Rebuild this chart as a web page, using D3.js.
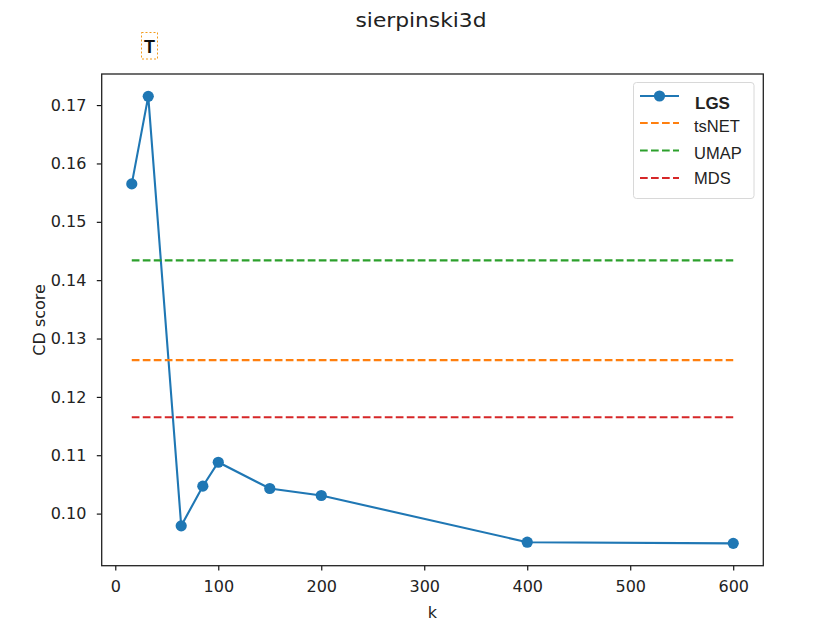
<!DOCTYPE html>
<html>
<head>
<meta charset="utf-8">
<script src="https://cdn.jsdelivr.net/npm/d3@7/dist/d3.min.js"></script>
<style>
html,body{margin:0;padding:0;background:#fff;}
svg{display:block;}
</style>
</head>
<body>
<svg id="chart" width="830" height="630"></svg>
<script>
const title = "sierpinski3d";
const kValues = [16, 32, 64, 85, 100, 150, 200, 400, 600];
const lgsScores = [0.1565, 0.1715, 0.0979, 0.1047, 0.1088, 0.1043, 0.1031, 0.0951, 0.0949];
const baselineNames = ["tsNET", "UMAP", "MDS"];
const baselineScores = [0.1263, 0.1434, 0.1165];
const baselineColors = ["#ff7f0e", "#2ca02c", "#d62728"];
const xTicks = [0, 100, 200, 300, 400, 500, 600];
const yTicks = [0.10, 0.11, 0.12, 0.13, 0.14, 0.15, 0.16, 0.17];

const svg = d3.select("#chart");
const L = 101.7, R = 763.3, T = 74, B = 565.7;
const font = "'DejaVu Sans', sans-serif";
const legendFont = "'Liberation Sans', Arial, sans-serif";

const xMin = d3.min(kValues), xMax = d3.max(kValues);
const xPad = (xMax - xMin) * 0.05;
const x = d3.scaleLinear().domain([xMin - xPad, xMax + xPad]).range([L, R]);
const allY = lgsScores.concat(baselineScores);
const yMin = d3.min(allY), yMax = d3.max(allY);
const yPad = (yMax - yMin) * 0.05;
const y = d3.scaleLinear().domain([yMin - yPad, yMax + yPad]).range([B, T]);

const lineGen = d3.line().x((d, i) => x(kValues[i])).y(d => y(d));
svg.append("path").datum(lgsScores)
  .attr("d", lineGen).attr("fill", "none")
  .attr("stroke", "#1f77b4").attr("stroke-width", 2.1);
svg.selectAll("circle.pt").data(lgsScores).enter().append("circle")
  .attr("class", "pt")
  .attr("cx", (d, i) => x(kValues[i])).attr("cy", d => y(d))
  .attr("r", 5.6).attr("fill", "#1f77b4");

baselineScores.forEach((v, i) => {
  svg.append("line")
    .attr("x1", x(xMin)).attr("x2", x(xMax))
    .attr("y1", y(v)).attr("y2", y(v))
    .attr("stroke", baselineColors[i]).attr("stroke-width", 2.1)
    .attr("stroke-dasharray", "7.7,3.3");
});

// axes
const xAxis = d3.axisBottom(x).tickValues(xTicks).tickSize(4.9).tickPadding(10).tickFormat(d3.format("d"));
const yAxis = d3.axisLeft(y).tickValues(yTicks).tickSize(4.9).tickPadding(10.5).tickFormat(d3.format(".2f"));
const gx = svg.append("g").attr("transform", `translate(0,${B})`).call(xAxis);
const gy = svg.append("g").attr("transform", `translate(${L},0)`).call(yAxis);
[gx, gy].forEach(g => {
  g.select(".domain").remove();
  g.selectAll(".tick line").attr("stroke", "#000").attr("stroke-width", 1.1);
  g.selectAll(".tick text").attr("font-family", font).attr("font-size", 16).attr("fill", "#222");
});

// frame
svg.append("rect").attr("x", L).attr("y", T).attr("width", R - L).attr("height", B - T)
  .attr("fill", "none").attr("stroke", "#222").attr("stroke-width", 1.3);

// title & labels
svg.append("text").attr("x", 421).attr("y", 27.3).attr("text-anchor", "middle")
  .attr("font-family", font).attr("font-size", 19.5).attr("fill", "#222")
  .attr("textLength", 131).attr("lengthAdjust", "spacingAndGlyphs").text(title);
svg.append("text").attr("x", (L + R) / 2).attr("y", 618).attr("text-anchor", "middle")
  .attr("font-family", font).attr("font-size", 16).attr("fill", "#222").text("k");
svg.append("text").attr("transform", `translate(45,${(T + B) / 2}) rotate(-90)`)
  .attr("text-anchor", "middle")
  .attr("font-family", font).attr("font-size", 16).attr("fill", "#222").text("CD score");

// "T" marker box
svg.append("rect").attr("x", 141.5).attr("y", 32.5).attr("width", 16).attr("height", 26.5)
  .attr("fill", "none").attr("stroke", "#f39c1c").attr("stroke-width", 1)
  .attr("stroke-dasharray", "2,2");
svg.append("text").attr("x", 149.5).attr("y", 52.5).attr("text-anchor", "middle")
  .attr("font-family", legendFont).attr("font-size", 18)
  .attr("font-weight", "bold").attr("fill", "#111").text("T");

// legend
const lg = svg.append("g");
lg.append("rect").attr("x", 633.5).attr("y", 82.5).attr("width", 120.5).attr("height", 116)
  .attr("rx", 3).attr("fill", "#fff").attr("fill-opacity", 0.8)
  .attr("stroke", "#d8d8d8").attr("stroke-width", 1);
const legendNames = ["LGS"].concat(baselineNames);
const legendColors = ["#1f77b4"].concat(baselineColors);
const legendYs = [96, 123, 150.5, 178];
const legendTextYs = [108.8, 131.6, 159.2, 184.2];
legendNames.forEach((name, i) => {
  const ly = legendYs[i];
  const ln = lg.append("line").attr("x1", 640).attr("x2", 679).attr("y1", ly).attr("y2", ly)
    .attr("stroke", legendColors[i]).attr("stroke-width", 2.1);
  if (i === 0) {
    lg.append("circle").attr("cx", 659.5).attr("cy", ly).attr("r", 5.6).attr("fill", legendColors[i]);
  } else {
    ln.attr("stroke-dasharray", "7.7,3.3");
  }
  lg.append("text").attr("x", i === 0 ? 695 : 694).attr("y", legendTextYs[i])
    .attr("font-family", legendFont).attr("font-size", i === 0 ? 17 : 16.5)
    .attr("font-weight", i === 0 ? "bold" : "normal").attr("fill", "#222").text(name);
});
</script>
</body>
</html>
